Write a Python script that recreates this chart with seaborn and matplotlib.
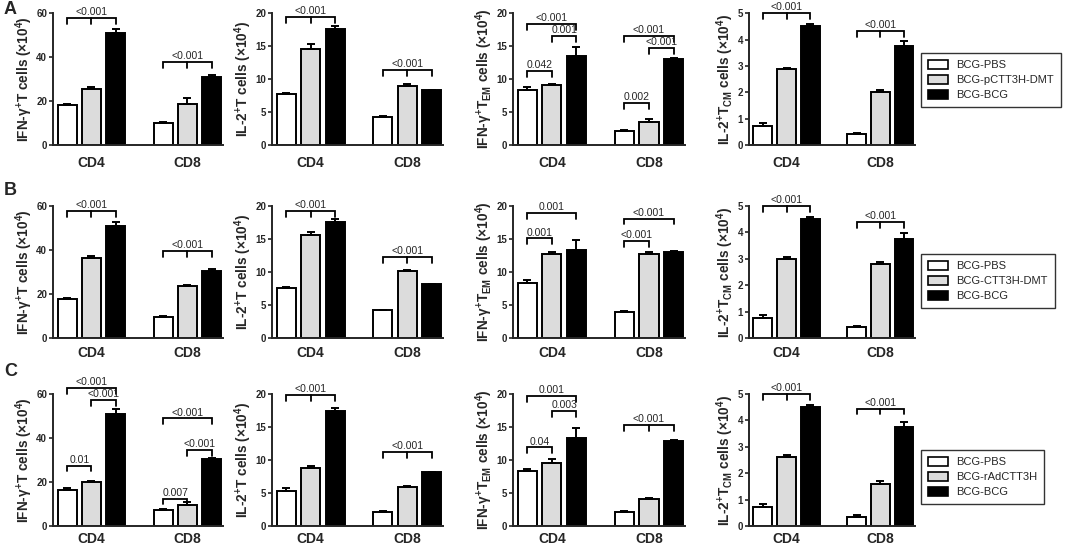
"""Grouped bar panels (CD4 / CD8) for three vaccination comparisons.

Each row compares BCG-PBS, a test regimen and BCG-BCG across four
read-outs, with mean + SEM bars and p-value brackets.
"""

import matplotlib
matplotlib.use("Agg")
import matplotlib.pyplot as plt
import matplotlib.transforms as mtransforms
from matplotlib.patches import Patch
import numpy as np
import pandas as pd
import seaborn as sns

W, H = 1084, 547

CELLS = ["CD4", "CD8"]
GROUP_KEYS = ["PBS", "TEST", "BCG"]
COLORS = ["white", "#dcdcdc", "black"]

LEGEND_A = ["BCG-PBS", "BCG-pCTT3H-DMT", "BCG-BCG"]
LEGEND_B = ["BCG-PBS", "BCG-CTT3H-DMT", "BCG-BCG"]
LEGEND_C = ["BCG-PBS", "BCG-rAdCTT3H", "BCG-BCG"]

YLABELS = [
    "IFN-γ$^{+}$T cells (×10$^{4}$)",
    "IL-2$^{+}$T cells (×10$^{4}$)",
    "IFN-γ$^{+}$T$_{EM}$ cells (×10$^{4}$)",
    "IL-2$^{+}$T$_{CM}$ cells (×10$^{4}$)",
]
YMAX = [60, 20, 20, 5]
YSTEP = [20, 5, 5, 1]

# means / SEM per group (PBS, test, BCG), each as [CD4, CD8]
A_IFN = [[18.2, 10.2], [25.5, 18.6], [51.0, 31.2]]
A_IFN_SEM = [[0.6, 0.3], [0.7, 2.6], [1.8, 0.5]]
A_IL2 = [[7.7, 4.3], [14.6, 9.0], [17.6, 8.3]]
A_IL2_SEM = [[0.15, 0.15], [0.8, 0.2], [0.5, 0.1]]
A_EM = [[8.4, 2.2], [9.15, 3.5], [13.45, 13.05]]
A_EM_SEM = [[0.4, 0.15], [0.15, 0.5], [1.5, 0.15]]
A_CM = [[0.73, 0.4], [2.89, 2.0], [4.53, 3.77]]
A_CM_SEM = [[0.12, 0.04], [0.04, 0.08], [0.07, 0.19]]

B_IFN = [[17.8, 9.7], [36.3, 23.6], [50.7, 30.6]]
B_IFN_SEM = [[0.5, 0.4], [1.0, 0.6], [2.1, 0.6]]
B_IL2 = [[7.6, 4.2], [15.6, 10.1], [17.6, 8.15]]
B_IL2_SEM = [[0.1, 0.1], [0.45, 0.15], [0.45, 0.06]]
B_EM = [[8.3, 4.0], [12.8, 12.8], [13.4, 13.05]]
B_EM_SEM = [[0.5, 0.05], [0.3, 0.3], [1.45, 0.1]]
B_CM = [[0.75, 0.41], [3.0, 2.8], [4.52, 3.76]]
B_CM_SEM = [[0.11, 0.03], [0.08, 0.09], [0.07, 0.2]]

C_IFN = [[16.2, 7.3], [20.15, 9.6], [50.8, 30.5]]
C_IFN_SEM = [[1.05, 0.3], [0.4, 1.1], [2.2, 0.5]]
C_IL2 = [[5.25, 2.05], [8.75, 5.85], [17.45, 8.15]]
C_IL2_SEM = [[0.45, 0.15], [0.3, 0.15], [0.5, 0.06]]
C_EM = [[8.3, 2.05], [9.6, 4.15], [13.4, 12.9]]
C_EM_SEM = [[0.4, 0.15], [0.5, 0.15], [1.5, 0.2]]
C_CM = [[0.72, 0.34], [2.6, 1.6], [4.52, 3.76]]
C_CM_SEM = [[0.1, 0.07], [0.08, 0.1], [0.06, 0.19]]

# brackets: (cell, first bar, last bar, height, p-value, middle tick)
A_IFN_SIG = [(0, 0, 2, 58.0, "<0.001", True), (1, 0, 2, 37.8, "<0.001", True)]
A_IL2_SIG = [(0, 0, 2, 19.5, "<0.001", True), (1, 0, 2, 11.4, "<0.001", True)]
A_EM_SIG = [
    (0, 0, 2, 18.4, "<0.001", False), (0, 1, 2, 16.6, "0.001", False),
    (0, 0, 1, 11.3, "0.042", False), (1, 0, 2, 16.6, "<0.001", False),
    (1, 1, 2, 14.7, "<0.001", False), (1, 0, 1, 6.4, "0.002", False),
]
A_CM_SIG = [(0, 0, 2, 5.0, "<0.001", True), (1, 0, 2, 4.33, "<0.001", True)]

B_IFN_SIG = [(0, 0, 2, 57.7, "<0.001", True), (1, 0, 2, 39.4, "<0.001", True)]
B_IL2_SIG = [(0, 0, 2, 19.2, "<0.001", True), (1, 0, 2, 12.3, "<0.001", True)]
B_EM_SIG = [
    (0, 0, 2, 19.0, "0.001", False), (0, 0, 1, 15.1, "0.001", False),
    (1, 0, 2, 18.1, "<0.001", False), (1, 0, 1, 14.7, "<0.001", False),
]
B_CM_SIG = [(0, 0, 2, 5.0, "<0.001", True), (1, 0, 2, 4.4, "<0.001", True)]

C_IFN_SIG = [
    (0, 0, 2, 62.6, "<0.001", False), (0, 1, 2, 57.3, "<0.001", False),
    (0, 0, 1, 27.5, "0.01", False), (1, 0, 2, 48.9, "<0.001", False),
    (1, 1, 2, 34.7, "<0.001", False), (1, 0, 1, 12.5, "0.007", False),
]
C_IL2_SIG = [(0, 0, 2, 19.8, "<0.001", True), (1, 0, 2, 11.2, "<0.001", True)]
C_EM_SIG = [
    (0, 0, 2, 19.7, "0.001", False), (0, 1, 2, 17.4, "0.003", False),
    (0, 0, 1, 11.9, "0.04", False), (1, 0, 2, 15.3, "<0.001", True),
]
C_CM_SIG = [(0, 0, 2, 5.0, "<0.001", True), (1, 0, 2, 4.45, "<0.001", True)]

# layout in pixels
COLUMNS = [(53, 223), (272, 443), (513, 685), (749, 915)]
ROWS = [(13.3, 145), (206, 338), (394, 526)]
XTICK_PAD = [8, 6, 4]
LEGEND_CENTER = [80, 281, 477]
LETTER_Y = [10, 190, 372]


def draw_panel(fig, ax, means, sems, brackets, ymax, ystep, ylabel, xpad):
    df = pd.DataFrame({
        "cell": [c for _ in GROUP_KEYS for c in CELLS],
        "group": [g for g in GROUP_KEYS for _ in CELLS],
        "value": [v for row in means for v in row],
    })
    sns.barplot(
        data=df, x="cell", y="value", hue="group",
        order=CELLS, hue_order=GROUP_KEYS, palette=COLORS,
        edgecolor="black", linewidth=1.4, width=0.76, gap=0.22,
        saturation=1, errorbar=None, legend=False, ax=ax,
    )
    bars = sorted(ax.patches, key=lambda p: p.get_x())
    xs = [b.get_x() + b.get_width() / 2 for b in bars]
    hs = [b.get_height() for b in bars]
    errs = [sems[g][c] for c in range(2) for g in range(3)]
    ax.errorbar(xs, hs, yerr=[np.zeros(len(errs)), errs], fmt="none",
                ecolor="black", elinewidth=1.4, capsize=3.2, capthick=1.4)

    tick = 0.045 * ymax
    text_tf = mtransforms.offset_copy(ax.transData, fig=fig, y=0.6, units="points")
    for cell, i, j, y, label, mid in brackets:
        x0, x1 = xs[cell * 3 + i], xs[cell * 3 + j]
        ax.plot([x0, x0, x1, x1], [y - tick, y, y, y - tick],
                color="black", lw=1.3, clip_on=False, solid_joinstyle="miter")
        if mid:
            xm = (x0 + x1) / 2
            ax.plot([xm, xm], [y, y - tick], color="black", lw=1.3, clip_on=False)
        ax.text((x0 + x1) / 2, y, label, transform=text_tf, ha="center",
                va="bottom", fontsize=7.5, clip_on=False)

    ax.set_xlim(-0.4, 1.37)
    ax.set_ylim(0, ymax)
    ax.set_yticks(np.arange(0, ymax + ystep / 2, ystep))
    ax.set_xlabel("")
    ax.set_ylabel(ylabel, fontsize=9.8, fontweight="bold", labelpad=1)
    sns.despine(ax=ax)
    for side in ("left", "bottom"):
        ax.spines[side].set_linewidth(1.4)
    ax.tick_params(axis="y", length=3, width=1.2, labelsize=7, pad=1.2)
    ax.tick_params(axis="x", length=0, labelsize=10, pad=xpad)
    for lbl in ax.get_yticklabels() + ax.get_xticklabels():
        lbl.set_fontweight("bold")


def main() -> None:
    sns.set_style("ticks")
    plt.rcParams["font.family"] = ["Liberation Sans", "DejaVu Sans"]
    plt.rcParams["mathtext.fontset"] = "custom"
    plt.rcParams["mathtext.default"] = "regular"

    rows = [
        ([A_IFN, A_IL2, A_EM, A_CM], [A_IFN_SEM, A_IL2_SEM, A_EM_SEM, A_CM_SEM],
         [A_IFN_SIG, A_IL2_SIG, A_EM_SIG, A_CM_SIG], LEGEND_A, "A"),
        ([B_IFN, B_IL2, B_EM, B_CM], [B_IFN_SEM, B_IL2_SEM, B_EM_SEM, B_CM_SEM],
         [B_IFN_SIG, B_IL2_SIG, B_EM_SIG, B_CM_SIG], LEGEND_B, "B"),
        ([C_IFN, C_IL2, C_EM, C_CM], [C_IFN_SEM, C_IL2_SEM, C_EM_SEM, C_CM_SEM],
         [C_IFN_SIG, C_IL2_SIG, C_EM_SIG, C_CM_SIG], LEGEND_C, "C"),
    ]

    fig = plt.figure(figsize=(W / 100, H / 100), dpi=100)
    for r, (means, sems, sigs, legend_labels, letter) in enumerate(rows):
        top, bottom = ROWS[r]
        for c, (left, right) in enumerate(COLUMNS):
            ax = fig.add_axes([left / W, 1 - bottom / H, (right - left) / W,
                               (bottom - top) / H])
            draw_panel(fig, ax, means[c], sems[c], sigs[c], YMAX[c], YSTEP[c],
                       YLABELS[c], XTICK_PAD[r])

        handles = [Patch(facecolor=col, edgecolor="black", linewidth=1.2)
                   for col in COLORS]
        leg = fig.legend(
            handles, legend_labels, loc="center left",
            bbox_to_anchor=(921 / W, 1 - LEGEND_CENTER[r] / H),
            fontsize=8, frameon=True, fancybox=False, edgecolor="black",
            handlelength=1.8, handleheight=0.9, handletextpad=0.8,
            borderpad=0.6, labelspacing=0.4, borderaxespad=0,
        )
        leg.get_frame().set_linewidth(1.0)
        fig.text(4 / W, 1 - LETTER_Y[r] / H, letter, fontsize=13,
                 fontweight="bold", va="center", ha="left")

    fig.savefig("out.png", dpi=100)
    plt.close(fig)


if __name__ == "__main__":
    main()
